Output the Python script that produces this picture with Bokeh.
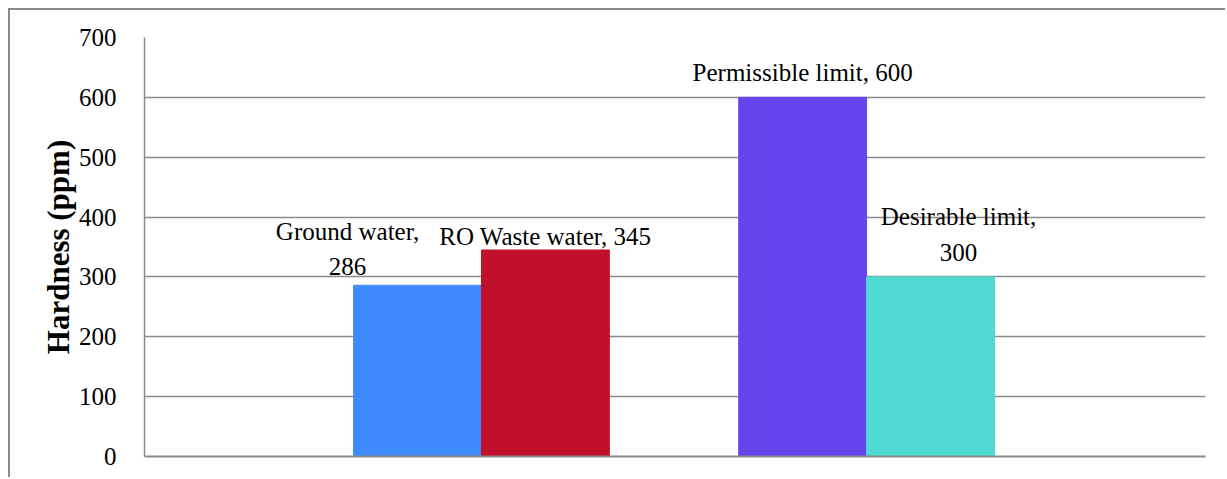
from bokeh.plotting import figure
from bokeh.models import ColumnDataSource, Range1d, FixedTicker
from bokeh.embed import file_html
from bokeh.resources import INLINE
from bokeh.core.properties import value

# ---- data ----
series = ["Ground water", "RO Waste water", "Permissible limit", "Desirable limit"]
hardness = [286, 345, 600, 300]
group = [1, 1, 2, 2]
colors = ["#3D8BFC", "#C0102B", "#6645EF", "#50DAD4"]
y_ticks = [0, 100, 200, 300, 400, 500, 600, 700]

# label layout (display only)
label_text = ["Ground water,\n286", "RO Waste water, 345", "Permissible limit, 600", "Desirable limit,\n300"]
label_dx = [-70, 0, 0, 28]
label_dy = [-5, 0, -11, -11]

bar_w = 0.332
offsets = [-bar_w / 2, bar_w / 2, -bar_w / 2, bar_w / 2]
xs = [g + o for g, o in zip(group, offsets)]

src = ColumnDataSource(dict(x=xs, top=hardness, color=colors, label=label_text,
                            dx=label_dx, dy=label_dy, name=series))

p = figure(width=1217, height=469, output_backend="svg", toolbar_location=None,
           x_range=Range1d(0.125, 2.88), y_range=Range1d(0, 700),
           min_border_left=134, min_border_right=22, min_border_top=27, min_border_bottom=23)
p.styles = {"border-left": "2px solid #8a8a8a", "border-top": "2px solid #8a8a8a",
            "margin-left": "8px", "margin-top": "8px"}
p.outline_line_color = None
p.background_fill_color = "white"
p.border_fill_color = "white"

p.vbar(x="x", top="top", width=bar_w, bottom=0, color="color", source=src)

p.text(x="x", y="top", text="label", x_offset="dx", y_offset="dy", source=src,
       text_align="center", text_baseline="bottom", text_font=value("Liberation Serif"),
       text_font_size="25px", text_color="black", text_line_height=1.32)

p.xgrid.grid_line_color = None
p.ygrid.grid_line_color = "#8a8a8a"
p.ygrid.grid_line_width = 1.5
p.ygrid.ticker = FixedTicker(ticks=y_ticks)

p.yaxis.ticker = FixedTicker(ticks=y_ticks)
p.yaxis.axis_line_color = "#8a8a8a"
p.yaxis.axis_line_width = 1.5
p.yaxis.major_tick_line_color = None
p.yaxis.minor_tick_line_color = None
p.yaxis.major_label_text_font = "Liberation Serif"
p.yaxis.major_label_text_font_size = "25px"
p.yaxis.major_label_text_color = "black"
p.yaxis.major_label_standoff = 22
p.yaxis.axis_label = "Hardness (ppm)"
p.yaxis.axis_label_text_font = "Liberation Serif"
p.yaxis.axis_label_text_font_size = "31px"
p.yaxis.axis_label_text_font_style = "bold"
p.yaxis.axis_label_text_color = "black"
p.yaxis.axis_label_standoff = 0

p.xaxis.axis_line_color = "#8a8a8a"
p.xaxis.axis_line_width = 2
p.xaxis.major_tick_line_color = None
p.xaxis.minor_tick_line_color = None
p.xaxis.major_label_text_font_size = "0px"
p.xaxis.ticker = FixedTicker(ticks=[])

open("out.html", "w").write(file_html(p, INLINE))
